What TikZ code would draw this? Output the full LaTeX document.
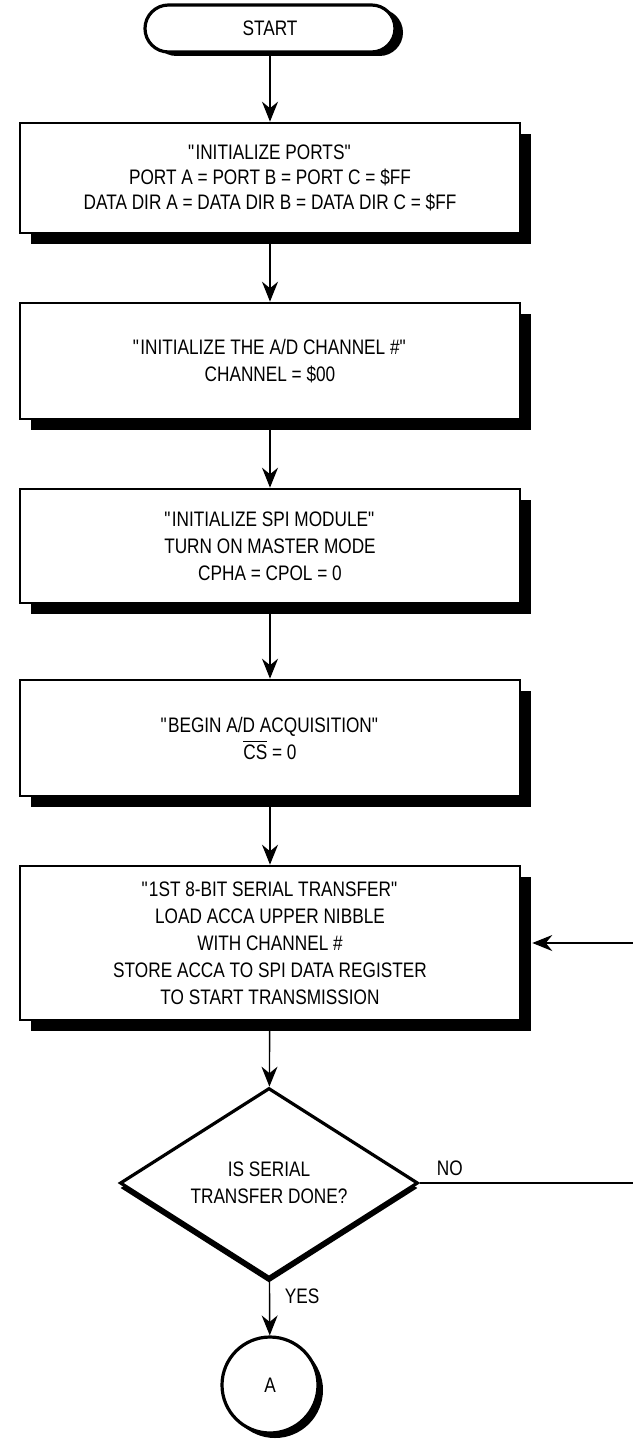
\documentclass[tikz,border=0pt]{standalone}
\usepackage{fontspec}
\setmainfont{Liberation Sans}[FakeStretch=0.82]
\usetikzlibrary{shapes.geometric,shadows,arrows.meta}

\begin{document}
\begin{tikzpicture}[x=0.5pt,y=-0.5pt,
        font=\fontsize{10.5}{13.5}\selectfont,
        every node/.style={align=center},
        termbox/.style={draw, line width=1.6pt, fill=white, rounded corners=11.75pt,
            minimum width=125pt, minimum height=23.5pt, inner sep=0pt,
            drop shadow={shadow xshift=4pt, shadow yshift=-2pt, fill=black, opacity=1}},
        flowbox/.style={draw, line width=1.3pt, fill=white, minimum width=250pt, inner sep=0pt,
            drop shadow={shadow xshift=5.5pt, shadow yshift=-5.5pt, fill=black, opacity=1}},
        decision/.style={diamond, draw, line width=1.6pt, fill=white, aspect=1.57,
            minimum width=149pt, minimum height=95pt, inner sep=0pt,
            drop shadow={shadow xshift=0pt, shadow yshift=-2.5pt, fill=black, opacity=1}},
        connector/.style={circle, draw, line width=1.6pt, fill=white, minimum size=48pt, inner sep=0pt,
            drop shadow={shadow xshift=2.5pt, shadow yshift=-2.5pt, fill=black, opacity=1}},
        flowline/.style={line width=0.7pt, -{Stealth[length=10pt,width=8pt]}}]
        \useasboundingbox (0,0) rectangle (632,1439);
        \node[termbox] (start) at (270,28.5) {START};
        \node[flowbox, minimum height=55pt, font=\fontsize{10.5}{12.5}\selectfont] (ports) at (270,178)
            {\textquotedbl INITIALIZE PORTS\textquotedbl\\PORT A = PORT B = PORT C = \$FF\\DATA DIR A = DATA DIR B = DATA DIR C = \$FF};
        \node[flowbox, minimum height=58pt] (chan) at (270,361)
            {\textquotedbl INITIALIZE THE A/D CHANNEL \#\textquotedbl\\CHANNEL = \$00};
        \node[flowbox, minimum height=57pt] (spi) at (270,546)
            {\textquotedbl INITIALIZE SPI MODULE\textquotedbl\\TURN ON MASTER MODE\\CPHA = CPOL = 0};
        \node[flowbox, minimum height=58pt] (acq) at (270,738)
            {\textquotedbl BEGIN A/D ACQUISITION\textquotedbl\\$\overline{\hbox{CS}}$ = 0};
        \node[flowbox, minimum height=77pt] (xfer) at (270,943)
            {\textquotedbl 1ST 8-BIT SERIAL TRANSFER\textquotedbl\\LOAD ACCA UPPER NIBBLE\\WITH CHANNEL \#\\STORE ACCA TO SPI DATA REGISTER\\TO START TRANSMISSION};
        \node[decision] (done) at (269,1183) {IS SERIAL\\TRANSFER DONE?};
        \node[connector] (conA) at (270,1385) {A};
        \coordinate (loopturn) at (635,1183);
        \draw[flowline] (start) -- (ports);
        \draw[flowline] (ports) -- (chan);
        \draw[flowline] (chan) -- (spi);
        \draw[flowline] (spi) -- (acq);
        \draw[flowline] (acq) -- (xfer);
        \draw[flowline] (xfer) -- (done);
        \draw[flowline] (done) -- node[pos=0.3, right=4pt] {YES} (conA);
        \draw[flowline] (done.east) -- node[pos=0.14, above] {NO} (loopturn) |- ([xshift=5.5pt]xfer.east);
    \end{tikzpicture}
\end{document}
